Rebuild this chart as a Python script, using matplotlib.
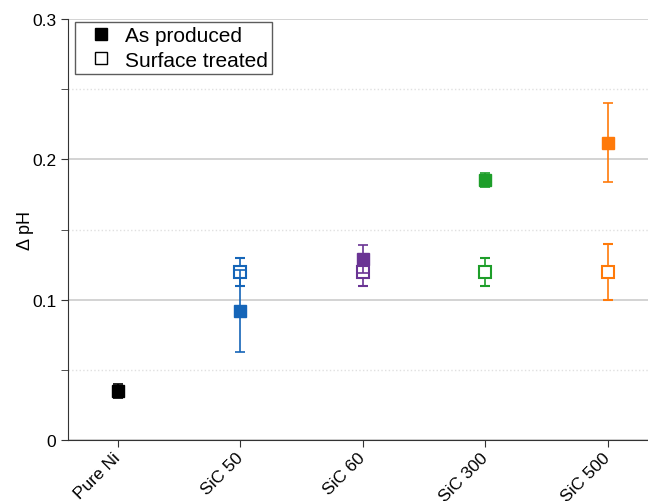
import numpy as np
import matplotlib.pyplot as plt
import matplotlib.transforms as mtransforms
from matplotlib.ticker import FixedLocator

samples = ['Pure Ni', 'SiC 50', 'SiC 60', 'SiC 300', 'SiC 500']
colors = ['#000000', '#1565b8', '#6a3494', '#1e9e2a', '#ff7a0a']

# as produced
prod_val = [0.035, 0.092, 0.129, 0.185, 0.212]
prod_err = [0.005, 0.029, 0.010, 0.005, 0.028]
# surface treated (no value for pure Ni)
treat_val = [None, 0.12, 0.12, 0.12, 0.12]
treat_err = [None, 0.010, 0.010, 0.010, 0.020]

plt.rcParams['font.family'] = ['Liberation Sans', 'DejaVu Sans']
fig = plt.figure(figsize=(6.48, 5.02), dpi=100)
ax = fig.add_axes([0.105, 0.1215, 0.895, 0.8386])

x = np.arange(len(samples))
for i in range(len(samples)):
    if treat_val[i] is not None:
        ax.errorbar(x[i], treat_val[i], yerr=treat_err[i], fmt='s', ms=8.5,
                    mfc='white', mec=colors[i], mew=1.5, ecolor=colors[i],
                    elinewidth=1.2, capsize=3.5, capthick=1.2, zorder=3)
    ax.errorbar(x[i], prod_val[i], yerr=prod_err[i], fmt='s', ms=8.5,
                mfc=colors[i], mec=colors[i], ecolor=colors[i],
                elinewidth=1.2, capsize=3.5, capthick=1.2, zorder=4)

ax.set_xlim(-0.408, 4.33)
ax.set_ylim(0, 0.3)
ax.set_xticks(x)
ax.set_xticklabels(samples, rotation=45, ha='right', va='center',
                   rotation_mode='anchor', fontsize=12.5)
shift = mtransforms.ScaledTranslation(7.5 / 72, 0, fig.dpi_scale_trans)
for lab in ax.get_xticklabels():
    lab.set_transform(lab.get_transform() + shift)
ax.tick_params(axis='x', pad=6)

ax.yaxis.set_major_locator(FixedLocator([0, 0.1, 0.2, 0.3]))
ax.yaxis.set_minor_locator(FixedLocator([0.05, 0.15, 0.25]))
ax.yaxis.set_major_formatter(plt.FuncFormatter(lambda v, p: '0' if v == 0 else f'{v:.1f}'))
ax.tick_params(axis='y', labelsize=12.5)
ax.set_ylabel('Δ pH', fontsize=13)
ax.yaxis.set_label_coords(-0.059, 0.5)

ax.grid(True, axis='y', which='major', color='#cccccc', lw=1.2)
ax.grid(True, axis='y', which='minor', color='#e0e0e0', lw=1.0, ls=':')
ax.set_axisbelow(True)
for s in ['top', 'right']:
    ax.spines[s].set_visible(False)
ax.spines['left'].set_color('#333333')
ax.spines['bottom'].set_color('#333333')
ax.tick_params(axis='both', which='both', direction='out', length=5, color='#333333')

h1 = ax.plot([], [], 's', color='black', ms=8.5)[0]
h2 = ax.plot([], [], 's', mfc='white', mec='black', ms=8.5, mew=1)[0]
leg = ax.legend([h1, h2], ['As produced', 'Surface treated'], loc='upper left',
                bbox_to_anchor=(0.012, 0.9936), borderaxespad=0, fontsize=15,
                frameon=True, fancybox=False, edgecolor='#333333', borderpad=0.2,
                handletextpad=0.1, labelspacing=0.27, handlelength=2.1)
leg.get_frame().set_linewidth(1.0)

fig.savefig('out.png', dpi=100)
